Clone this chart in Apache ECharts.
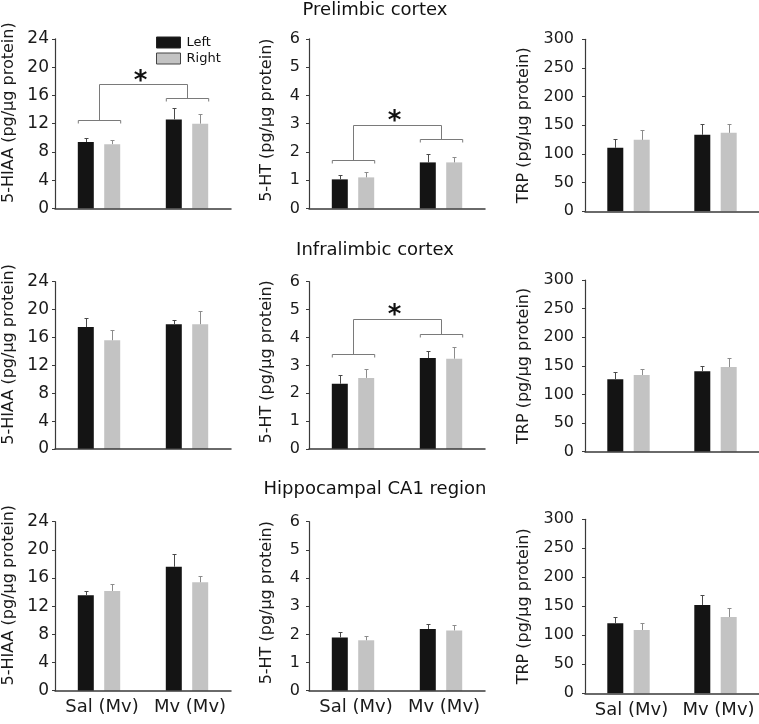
<!DOCTYPE html>
<html><head><meta charset="utf-8">
<script src="https://cdn.jsdelivr.net/npm/echarts@6/dist/echarts.min.js"></script>
<style>html,body{margin:0;padding:0;background:#fff}#c{width:759px;height:724px}</style>
</head><body><div id="c"></div>
<script>
// ---------- data ----------
const categories = ['Sal (Mv)', 'Mv (Mv)'];
const regionTitles = ['Prelimbic cortex', 'Infralimbic cortex', 'Hippocampal CA1 region'];
const measureNames = ['5-HIAA (pg/µg protein)', '5-HT (pg/µg protein)', 'TRP (pg/µg protein)'];
const axisMax = [24, 6, 300];
const axisInterval = [4, 1, 50];

// Prelimbic cortex
const plHiaaLeft = [9.4, 12.6],   plHiaaLeftErr = [0.56, 1.55];
const plHiaaRight = [9.1, 12.0],  plHiaaRightErr = [0.6, 1.4];
const plHtLeft = [1.03, 1.63],    plHtLeftErr = [0.14, 0.30];
const plHtRight = [1.10, 1.63],   plHtRightErr = [0.19, 0.20];
const plTrpLeft = [110.7, 133.4], plTrpLeftErr = [15.1, 18.6];
const plTrpRight = [124.6, 136.9],plTrpRightErr = [17.4, 15.1];
// Infralimbic cortex
const ilHiaaLeft = [17.5, 17.9],  ilHiaaLeftErr = [1.25, 0.62];
const ilHiaaRight = [15.6, 17.9], ilHiaaRightErr = [1.4, 1.96];
const ilHtLeft = [2.34, 3.26],    ilHtLeftErr = [0.32, 0.25];
const ilHtRight = [2.55, 3.24],   ilHtRightErr = [0.31, 0.41];
const ilTrpLeft = [126.4, 140.4], ilTrpLeftErr = [13.4, 9.9];
const ilTrpRight = [134.0, 147.9],ilTrpRightErr = [11.0, 15.1];
// Hippocampal CA1 region
const caHiaaLeft = [13.55, 17.6], caHiaaLeftErr = [0.62, 1.77];
const caHiaaRight = [14.17, 15.4],caHiaaRightErr = [0.93, 0.95];
const caHtLeft = [1.89, 2.19],    caHtLeftErr = [0.18, 0.17];
const caHtRight = [1.79, 2.14],   caHtRightErr = [0.15, 0.20];
const caTrpLeft = [120.7, 152.3], caTrpLeftErr = [10.3, 16.7];
const caTrpRight = [109.2, 131.6],caTrpRightErr = [11.5, 16.1];

// significance brackets: [group1 level, group2 level, top level, star level]
const plHiaaBracket = [12.56, 15.58, 17.55, 18.58];
const plHtBracket = [1.70, 2.45, 2.96, 3.23];
const ilHtBracket = [3.39, 4.14, 4.65, 4.95];

// ---------- layout / style ----------
const FONT = 'DejaVu Sans';
const BAR_W = 16, BAR_GAP = '65%', BAR_OFF = 13.2;
const STAR_DY = 5;
const colLeft = [55, 309, 585];
const colW = 176;
const rowGeom = [
  [[38.8, 169.7], [281.7, 167.3], [521.7, 169]],
  [[38.8, 169.7], [281.7, 167.3], [521.7, 169]],
  [[39.3, 172], [280, 171.7], [519.3, 174]]
];
const labelSize = [17, 16, 16];
const labelMargin = [6, 9, 11];
const nameGap = [38, 34, 53];
const namePad = [22, 7, 0];
const titleY = [10, 250, 489];

const panels = [
  [[plHiaaLeft, plHiaaLeftErr, plHiaaRight, plHiaaRightErr, plHiaaBracket],
   [plHtLeft, plHtLeftErr, plHtRight, plHtRightErr, plHtBracket],
   [plTrpLeft, plTrpLeftErr, plTrpRight, plTrpRightErr, null]],
  [[ilHiaaLeft, ilHiaaLeftErr, ilHiaaRight, ilHiaaRightErr, null],
   [ilHtLeft, ilHtLeftErr, ilHtRight, ilHtRightErr, ilHtBracket],
   [ilTrpLeft, ilTrpLeftErr, ilTrpRight, ilTrpRightErr, null]],
  [[caHiaaLeft, caHiaaLeftErr, caHiaaRight, caHiaaRightErr, null],
   [caHtLeft, caHtLeftErr, caHtRight, caHtRightErr, null],
   [caTrpLeft, caTrpLeftErr, caTrpRight, caTrpRightErr, null]]
];

function errRender(side, color) {
  return function (params, api) {
    const idx = api.value(0), v = api.value(1), e = api.value(2);
    const b = api.coord([idx, v]);
    const t = api.coord([idx, v + e]);
    const x = Math.round(b[0] + side * BAR_OFF) + 0.5;
    const yt = Math.round(t[1]) + 0.5;
    const st = { stroke: color, lineWidth: 1 };
    return { type: 'group', children: [
      { type: 'line', shape: { x1: x, y1: b[1], x2: x, y2: yt }, style: st },
      { type: 'line', shape: { x1: x - 2, y1: yt, x2: x + 2, y2: yt }, style: st }
    ]};
  };
}

function bracketRender(params, api) {
  const l1 = api.value(1), l2 = api.value(2), top = api.value(3), star = api.value(4);
  const a = api.coord([0, l1]), b = api.coord([1, l2]);
  const tp = api.coord([0, top]), sp = api.coord([0, star]);
  const half = BAR_OFF + BAR_W / 2, drop = 3;
  const st = { stroke: '#7a7a7a', lineWidth: 1, fill: null };
  const r = v => Math.round(v) + 0.5;
  const x0 = r(a[0]), x1 = r(b[0]);
  const y1 = r(a[1]), y2 = r(b[1]), yt = r(tp[1]);
  return { type: 'group', children: [
    { type: 'polyline', shape: { points: [[x0 - half, y1 + drop], [x0 - half, y1], [x0 + half, y1], [x0 + half, y1 + drop]] }, style: st },
    { type: 'polyline', shape: { points: [[x1 - half, y2 + drop], [x1 - half, y2], [x1 + half, y2], [x1 + half, y2 + drop]] }, style: st },
    { type: 'polyline', shape: { points: [[x0, y1], [x0, yt], [x1, yt], [x1, y2]] }, style: st },
    { type: 'text', x: (x0 + x1) / 2 - 3, y: sp[1] + STAR_DY, style: { text: '*', font: 'bold 26px "' + FONT + '"', fill: '#111', align: 'center', verticalAlign: 'middle' } }
  ]};
}

const grid = [], xAxis = [], yAxis = [], series = [];
for (let r = 0; r < 3; r++) {
  for (let c = 0; c < 3; c++) {
    const gi = r * 3 + c;
    const g = rowGeom[c][r];
    grid.push({ left: colLeft[c], width: colW, top: g[0], height: g[1] });
    xAxis.push({
      type: 'category', gridIndex: gi, data: categories, z: 5,
      axisLine: { show: true, lineStyle: { color: '#3a3a3a', width: 1.5 } },
      axisTick: { show: false },
      axisLabel: { show: r === 2, interval: 0, hideOverlap: false, fontFamily: FONT, fontSize: 18, color: '#1a1a1a', margin: 8, padding: [0, 0, 0, 6] }
    });
    yAxis.push({
      type: 'value', gridIndex: gi, min: 0, max: axisMax[c], interval: axisInterval[c],
      name: measureNames[c], nameLocation: 'middle', nameGap: nameGap[c], nameRotate: 90,
      nameTextStyle: { fontFamily: FONT, fontSize: 16, color: '#1a1a1a', padding: [0, 0, 0, namePad[c]] },
      axisLine: { show: true, lineStyle: { color: '#3a3a3a', width: 1.2 } },
      axisTick: { show: true, length: 3, inside: false, lineStyle: { color: '#3a3a3a' } },
      splitLine: { show: false },
      axisLabel: { fontFamily: FONT, fontSize: labelSize[c], color: '#1a1a1a', margin: labelMargin[c] }
    });
    const p = panels[r][c];
    series.push({ name: 'Left', type: 'bar', xAxisIndex: gi, yAxisIndex: gi, data: p[0], barWidth: BAR_W, barGap: BAR_GAP, itemStyle: { color: '#141414' }, silent: true });
    series.push({ name: 'Right', type: 'bar', xAxisIndex: gi, yAxisIndex: gi, data: p[2], barWidth: BAR_W, barGap: BAR_GAP, itemStyle: { color: '#c3c3c3' }, silent: true });
    series.push({ type: 'custom', xAxisIndex: gi, yAxisIndex: gi, z: 3, silent: true,
      renderItem: errRender(-1, '#4a4a4a'), data: p[0].map((v, i) => [i, v, p[1][i]]) });
    series.push({ type: 'custom', xAxisIndex: gi, yAxisIndex: gi, z: 3, silent: true,
      renderItem: errRender(1, '#8c8c8c'), data: p[2].map((v, i) => [i, v, p[3][i]]) });
    if (p[4]) {
      series.push({ type: 'custom', xAxisIndex: gi, yAxisIndex: gi, z: 3, silent: true,
        renderItem: bracketRender, data: [[0].concat(p[4])] });
    }
  }
}

const option = {
  backgroundColor: '#fff',
  animation: false,
  grid, xAxis, yAxis, series,
  legend: {
    left: 151, top: 31, orient: 'vertical', icon: 'rect',
    itemWidth: 24, itemHeight: 11, itemGap: 3, selectedMode: false,
    textStyle: { fontFamily: FONT, fontSize: 13, lineHeight: 13, color: '#111', padding: [0, 0, 0, 1] },
    data: [
      { name: 'Left', itemStyle: { color: '#141414', borderColor: '#222', borderWidth: 1 } },
      { name: 'Right', itemStyle: { color: '#c3c3c3', borderColor: '#444', borderWidth: 1 } }
    ]
  },
  graphic: regionTitles.map((t, i) => ({
    type: 'text', x: 375, y: titleY[i],
    style: { text: t, font: '18px "' + FONT + '"', fill: '#111', align: 'center', verticalAlign: 'middle' }
  }))
};
const chart = echarts.init(document.getElementById('c'), null, { renderer: 'canvas' });
chart.setOption(option);
</script></body></html>
